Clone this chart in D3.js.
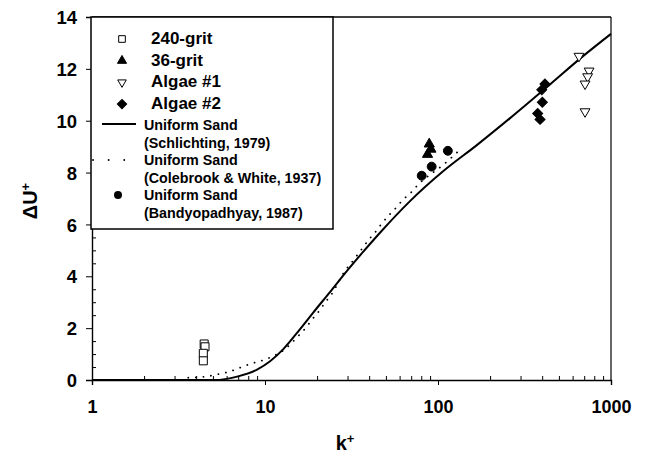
<!DOCTYPE html>
<html>
<head>
<meta charset="utf-8">
<script src="https://cdn.jsdelivr.net/npm/d3@7"></script>
<style>
body { margin: 0; background: #fff; }
text { font-family: "Liberation Sans", Arial, sans-serif; font-weight: bold; fill: #000; }
</style>
</head>
<body>
<svg id="chart" width="645" height="458"></svg>
<script>
// values
var grit240K = [4.45, 4.5, 4.4, 4.4];
var grit240U = [1.39, 1.28, 1.03, 0.74];
var grit36K = [89, 91, 87];
var grit36U = [9.1, 8.9, 8.7];
var algae1K = [653, 747, 733, 708, 708];
var algae1U = [12.49, 11.92, 11.7, 11.42, 10.35];
var algae2K = [415, 398, 401, 377, 389];
var algae2U = [11.42, 11.19, 10.71, 10.28, 10.05];
var bandK = [80.5, 91.9, 114];
var bandU = [7.88, 8.23, 8.84];
var schlK = [1, 5.1, 6.9, 9.0, 10.7, 12.8, 15.9, 19.0, 23.8, 29.7, 37.0, 46.2, 68.9, 107, 167, 261, 444, 692, 1000];
var schlU = [0, 0, 0.13, 0.4, 0.72, 1.2, 1.95, 2.6, 3.4, 4.2, 4.95, 5.68, 6.9, 8.05, 9.05, 10.1, 11.4, 12.5, 13.35];
var cwK = [3.6, 4.4, 5.5, 6.2, 7.6, 8.4, 9.4, 11.7, 12.9, 14.3, 15.8, 17.3, 18.8, 20.6, 22.2, 24.1, 29.4, 31.4, 33.9, 36.7, 39.9, 43.6, 47.3, 52.1, 57.2, 62.5, 69.8, 76.9, 105, 117, 130];
var cwU = [0.09, 0.12, 0.24, 0.32, 0.54, 0.64, 0.73, 0.99, 1.16, 1.44, 1.74, 2.03, 2.35, 2.67, 2.98, 3.28, 4.27, 4.5, 4.79, 5.1, 5.42, 5.72, 6.03, 6.36, 6.64, 6.94, 7.23, 7.54, 8.25, 8.52, 8.8];
var xTicks = [1, 10, 100, 1000];
var yTicks = [0, 2, 4, 6, 8, 10, 12, 14];

var svg = d3.select("#chart");
var x = d3.scaleLog().domain([1, 1000]).range([92, 611]);
var y = d3.scaleLinear().domain([0, 14]).range([380, 17]);

function pairs(ks, us){
	var out = [];
	for(var i = 0; i < ks.length; i++){
		out.push([ks[i], us[i]]);
	}
	return out;
}

// minor ticks, pointing inside
var xMinor = [];
for(var dec = 1; dec < 1000; dec *= 10){
	for(var m = 2; m <= 9; m++){ xMinor.push(dec * m); }
}
svg.append("g").attr("transform", "translate(0,380)")
	.call(d3.axisBottom(x).tickValues(xMinor).tickSize(-4).tickFormat(""))
	.call(function(g){ g.select(".domain").remove(); });
var yMinor = d3.range(0.5, 14, 0.5).filter(function(v){ return v % 2 != 0; });
svg.append("g").attr("transform", "translate(92,0)")
	.call(d3.axisLeft(y).tickValues(yMinor).tickSize(-4).tickFormat(""))
	.call(function(g){ g.select(".domain").remove(); });

// major axes
var xAxis = svg.append("g").attr("transform", "translate(0,380)")
	.call(d3.axisBottom(x).tickValues(xTicks).tickSize(5).tickPadding(15).tickFormat(d3.format("d")));
xAxis.selectAll("text").style("font-size", "18px");
var yAxis = svg.append("g").attr("transform", "translate(92,0)")
	.call(d3.axisLeft(y).tickValues(yTicks).tickSize(6).tickPadding(9));
yAxis.selectAll("text").style("font-size", "18.5px").attr("dy", "0.36em");
svg.selectAll(".domain").attr("stroke-width", 1.4);

// frame top and right
svg.append("line").attr("x1", 92).attr("x2", 611).attr("y1", 17).attr("y2", 17).attr("stroke", "#000").attr("stroke-width", 1.4);
svg.append("line").attr("x1", 611).attr("x2", 611).attr("y1", 17).attr("y2", 380).attr("stroke", "#000").attr("stroke-width", 1.2);

// curves
var line = d3.line().x(function(d){ return x(d[0]); }).y(function(d){ return y(d[1]); }).curve(d3.curveMonotoneX);
svg.append("path").datum(pairs(schlK, schlU)).attr("d", line)
	.attr("fill", "none").attr("stroke", "#000").attr("stroke-width", 2);
svg.append("path").datum(pairs(cwK, cwU)).attr("d", line)
	.attr("fill", "none").attr("stroke", "#000").attr("stroke-width", 1.8)
	.attr("stroke-dasharray", "0.1,7.5").attr("stroke-linecap", "round");

// markers
function drawSeries(ks, us, type, size, filled, rot){
	var sym = d3.symbol().type(type).size(size);
	svg.append("g").selectAll("path").data(pairs(ks, us))
		.enter()
		.append("path")
		.attr("d", sym)
		.attr("transform", function(d){ return "translate(" + x(d[0]) + "," + y(d[1]) + ") rotate(" + rot + ")"; })
		.attr("fill", filled ? "#000" : "#fff")
		.attr("stroke", "#000")
		.attr("stroke-width", 1);
}
drawSeries(grit240K, grit240U, d3.symbolSquare, 64, false, 0);
drawSeries(grit36K, grit36U, d3.symbolTriangle, 45, true, 0);
drawSeries(algae1K, algae1U, d3.symbolTriangle, 42, false, 180);
drawSeries(algae2K, algae2U, d3.symbolSquare, 50, true, 45);
drawSeries(bandK, bandU, d3.symbolCircle, 62, true, 0);

// legend
var lg = svg.append("g");
lg.append("rect").attr("x", 91).attr("y", 17).attr("width", 242).attr("height", 212)
	.attr("fill", "#fff").attr("stroke", "#000").attr("stroke-width", 1.5);
var bigLabels = ["240-grit", "36-grit", "Algae #1", "Algae #2"];
var bigSyms = [[d3.symbolSquare, 44, false, 0], [d3.symbolTriangle, 36, true, 0], [d3.symbolTriangle, 32, false, 180], [d3.symbolSquare, 44, true, 45]];
lg.selectAll("text.big").data(bigLabels)
	.enter()
	.append("text")
	.attr("class", "big")
	.attr("x", 151)
	.attr("y", function(d, i){ return 44 + i * 21.7; })
	.style("font-size", "17px")
	.text(function(d){ return d; });
lg.selectAll("path.sym").data(bigSyms)
	.enter()
	.append("path")
	.attr("class", "sym")
	.attr("d", function(d){ return d3.symbol().type(d[0]).size(d[1])(); })
	.attr("transform", function(d, i){ return "translate(122," + (39 + i * 21.7) + ") rotate(" + d[3] + ")"; })
	.attr("fill", function(d){ return d[2] ? "#000" : "#fff"; })
	.attr("stroke", "#000")
	.attr("stroke-width", 1);
var smallLabels = ["Uniform Sand", "(Schlichting, 1979)", "Uniform Sand", "(Colebrook & White, 1937)", "Uniform Sand", "(Bandyopadhyay, 1987)"];
lg.selectAll("text.small").data(smallLabels)
	.enter()
	.append("text")
	.attr("class", "small")
	.attr("x", 144)
	.attr("y", function(d, i){ return 130 + i * 17.6; })
	.style("font-size", "14.3px")
	.text(function(d){ return d; });
lg.append("line").attr("x1", 102).attr("x2", 136).attr("y1", 124).attr("y2", 124)
	.attr("stroke", "#000").attr("stroke-width", 2);
lg.append("line").attr("x1", 93).attr("x2", 134).attr("y1", 160).attr("y2", 160)
	.attr("stroke", "#000").attr("stroke-width", 1.8).attr("stroke-dasharray", "0.1,15.5").attr("stroke-linecap", "round");
lg.append("circle").attr("cx", 118).attr("cy", 195).attr("r", 4).attr("fill", "#000");

// axis titles
var yt = svg.append("text").attr("transform", "translate(37,201) rotate(-90)")
	.attr("text-anchor", "middle").style("font-size", "20px");
yt.append("tspan").text("\u0394U");
yt.append("tspan").attr("dy", "-0.55em").style("font-size", "13px").text("+");
var xt = svg.append("text").attr("x", 345).attr("y", 450)
	.attr("text-anchor", "middle").style("font-size", "20px");
xt.append("tspan").text("k");
xt.append("tspan").attr("dy", "-0.55em").style("font-size", "13px").text("+");
</script>
</body>
</html>
